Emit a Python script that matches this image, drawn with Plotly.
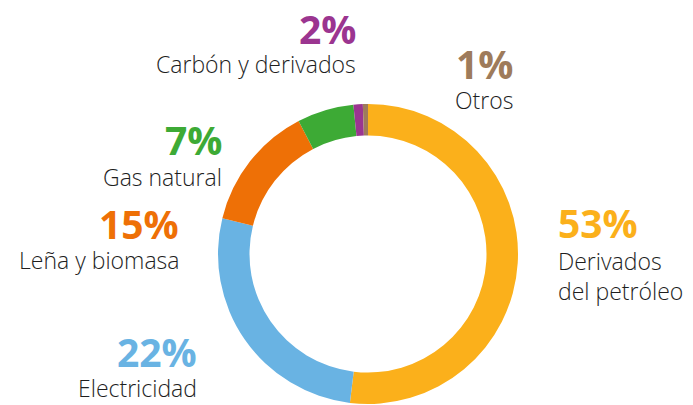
import plotly.graph_objects as go

# sources of energy, clockwise from 12 o'clock
categories = ["Derivados<br>del petróleo", "Electricidad", "Leña y biomasa",
              "Gas natural", "Carbón y derivados", "Otros"]
pct_labels = ["53%", "22%", "15%", "7%", "2%", "1%"]
# slice sizes as drawn in the ring (percent of the circle)
slice_share = [51.9, 26.9, 13.5, 6.1, 1.0, 0.55]
colors = ["#FBB01B", "#69B3E3", "#EE7006", "#3DAA35", "#9B3590", "#9E7B5B"]

# the page body has an 8px margin, so the figure is drawn a bit smaller
OFF = 8
W, H = 693 - OFF, 405 - OFF


def fx(px):
    return (px - OFF) / W


def fy(py):
    return 1 - (py - OFF) / H


fig = go.Figure(go.Pie(
    labels=categories,
    values=slice_share,
    sort=False,
    direction="clockwise",
    rotation=0,
    hole=0.79,
    textinfo="none",
    hoverinfo="label+value",
    marker=dict(colors=colors, line=dict(width=0)),
    domain=dict(x=[fx(218), fx(518)], y=[max(fy(404), 0), fy(104)]),
    showlegend=False,
))

# label placement in reference pixels: (x, pct y, name y, anchor)
label_pos = [
    (557, 222, 276, "left"),
    (198, 351, 388, "right"),
    (180, 223, 260, "right"),
    (223, 139, 177, "right"),
    (357, 29, 64, "right"),
    (484, 64, 100, "center"),
]

for (px, py_pct, py_name, anchor), name, pct, col in zip(label_pos, categories, pct_labels, colors):
    fig.add_annotation(x=fx(px), y=fy(py_pct), xref="paper", yref="paper",
                       text=f"<b>{pct}</b>", showarrow=False,
                       xanchor=anchor, yanchor="middle", borderpad=0,
                       font=dict(family="Open Sans", size=39, color=col))
    fig.add_annotation(x=fx(px), y=fy(py_name), xref="paper", yref="paper",
                       text=name, showarrow=False, align=anchor,
                       xanchor=anchor, yanchor="middle", borderpad=0,
                       font=dict(family="Open Sans", size=23, weight=300, color="#1e1e1e"))

fig.update_layout(
    width=W, height=H,
    margin=dict(l=0, r=0, t=0, b=0),
    paper_bgcolor="white",
    plot_bgcolor="white",
)

fig.write_html("out.html")
